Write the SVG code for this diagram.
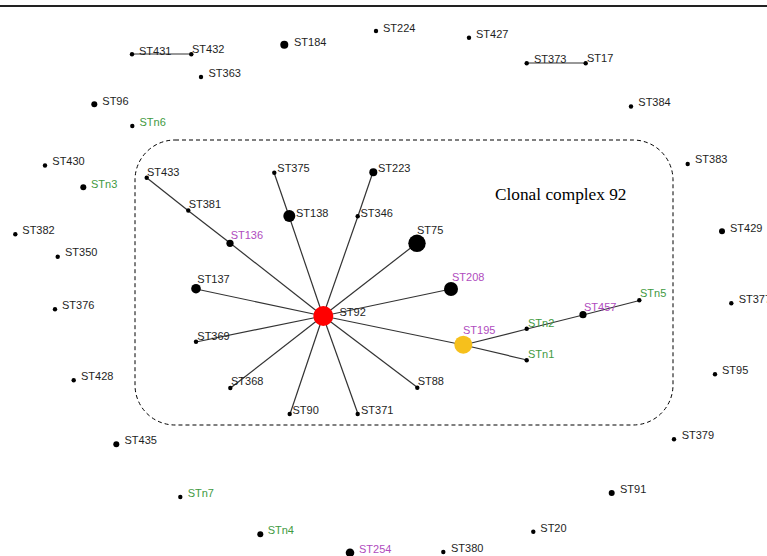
<svg xmlns="http://www.w3.org/2000/svg" width="767" height="556" viewBox="0 0 767 556">
<style>
text{font-family:"Liberation Sans",Arial,sans-serif;font-size:11px;fill:#1e1e1e}
.p{fill:#b04cbe}
.g{fill:#3f9a3f}
.cc{font-family:"Liberation Serif","Times New Roman",serif;font-size:17.3px;fill:#000}
circle{fill:#000}
#edges line{stroke:#333;stroke-width:1.2}
</style>
<rect width="767" height="556" fill="#fff"/>
<line x1="0" y1="6" x2="767" y2="6" stroke="#222" stroke-width="2.2"/>
<rect id="cc92-box" x="135" y="140" width="538" height="285" rx="40" ry="40" fill="none" stroke="#000" stroke-width="1" stroke-dasharray="4,3"/>
<text class="cc" x="495" y="200">Clonal complex 92</text>
<g id="edges">
<line x1="132" y1="54" x2="191" y2="54"/>
<line x1="527" y1="63" x2="586" y2="63"/>
<line x1="323" y1="316" x2="230" y2="243"/>
<line x1="230" y1="243" x2="188" y2="210.5"/>
<line x1="188" y1="210.5" x2="147" y2="178"/>
<line x1="323" y1="316" x2="289" y2="216"/>
<line x1="289" y1="216" x2="274" y2="172.5"/>
<line x1="323" y1="316" x2="358" y2="216"/>
<line x1="358" y1="216" x2="373" y2="172"/>
<line x1="323" y1="316" x2="417" y2="243"/>
<line x1="323" y1="316" x2="451" y2="289"/>
<line x1="323" y1="316" x2="196" y2="289"/>
<line x1="323" y1="316" x2="196" y2="342"/>
<line x1="323" y1="316" x2="230.5" y2="388"/>
<line x1="323" y1="316" x2="290" y2="414"/>
<line x1="323" y1="316" x2="358" y2="414"/>
<line x1="323" y1="316" x2="417.5" y2="387.5"/>
<line x1="323" y1="316" x2="463.5" y2="345"/>
<line x1="463.5" y1="345" x2="527" y2="329"/>
<line x1="527" y1="329" x2="583" y2="315"/>
<line x1="583" y1="315" x2="639.5" y2="300.5"/>
<line x1="463.5" y1="345" x2="527" y2="360"/>
</g>
<g id="ST431"><circle cx="132" cy="54.3" r="2.2"/><text x="139" y="55">ST431</text></g>
<g id="ST432"><circle cx="191.3" cy="54.3" r="2.2"/><text x="192" y="52.5">ST432</text></g>
<g id="ST363"><circle cx="201" cy="77" r="2.2"/><text x="208.5" y="77">ST363</text></g>
<g id="ST184"><circle cx="284.3" cy="44.7" r="4"/><text x="294" y="46">ST184</text></g>
<g id="ST224"><circle cx="376" cy="31" r="2.2"/><text x="383" y="31.5">ST224</text></g>
<g id="ST427"><circle cx="469" cy="37.7" r="2.2"/><text x="476" y="38">ST427</text></g>
<g id="ST373"><circle cx="526.7" cy="63.3" r="2.2"/><text x="534" y="63">ST373</text></g>
<g id="ST17"><circle cx="585.7" cy="63.3" r="2.2"/><text x="587" y="61.5">ST17</text></g>
<g id="ST384"><circle cx="631" cy="106.5" r="2.2"/><text x="638.3" y="106">ST384</text></g>
<g id="ST96"><circle cx="94.3" cy="104.3" r="3"/><text x="102.3" y="105">ST96</text></g>
<g id="STn6"><circle cx="132.3" cy="126" r="2.2"/><text class="g" x="139.5" y="126">STn6</text></g>
<g id="ST430"><circle cx="45" cy="165.5" r="2.2"/><text x="52.3" y="165">ST430</text></g>
<g id="STn3"><circle cx="83.3" cy="187.3" r="3"/><text class="g" x="91" y="188">STn3</text></g>
<g id="ST383"><circle cx="687.7" cy="164" r="2.2"/><text x="695" y="163">ST383</text></g>
<g id="ST433"><circle cx="146.7" cy="177.7" r="2.2"/><text x="147" y="176">ST433</text></g>
<g id="ST375"><circle cx="274.3" cy="172.7" r="2.2"/><text x="277.3" y="172">ST375</text></g>
<g id="ST223"><circle cx="373.3" cy="172.3" r="4"/><text x="378" y="172">ST223</text></g>
<g id="ST381"><circle cx="188.3" cy="210.5" r="2.2"/><text x="188.7" y="208">ST381</text></g>
<g id="ST138"><circle cx="289.3" cy="216" r="6"/><text x="296" y="216.5">ST138</text></g>
<g id="ST346"><circle cx="357.7" cy="216.3" r="2.2"/><text x="360.5" y="216.5">ST346</text></g>
<g id="ST75"><circle cx="417" cy="243.3" r="8.7"/><text x="417" y="234">ST75</text></g>
<g id="ST136"><circle cx="230" cy="243.3" r="3.6"/><text class="p" x="230.7" y="239">ST136</text></g>
<g id="ST382"><circle cx="15.3" cy="234.3" r="2.2"/><text x="22.3" y="234">ST382</text></g>
<g id="ST429"><circle cx="722" cy="231.3" r="3"/><text x="730" y="231.5">ST429</text></g>
<g id="ST350"><circle cx="57.7" cy="256.7" r="2.2"/><text x="65" y="256">ST350</text></g>
<g id="ST137"><circle cx="196" cy="288.7" r="4.8"/><text x="197.3" y="283">ST137</text></g>
<g id="ST208"><circle cx="451" cy="289" r="7"/><text class="p" x="452" y="281">ST208</text></g>
<g id="ST92"><circle cx="323.3" cy="316" r="10" style="fill:#ff0000"/><text x="339.5" y="316">ST92</text></g>
<g id="ST376"><circle cx="55" cy="309.3" r="2.2"/><text x="62" y="308.5">ST376</text></g>
<g id="STn5"><circle cx="639.3" cy="300.3" r="2.2"/><text class="g" x="640" y="297">STn5</text></g>
<g id="ST457"><circle cx="583" cy="314.7" r="3.6"/><text class="p" x="584" y="311">ST457</text></g>
<g id="STn2"><circle cx="526.7" cy="328.7" r="2.2"/><text class="g" x="528" y="327">STn2</text></g>
<g id="ST377"><circle cx="731.3" cy="303.3" r="2.2"/><text x="738.7" y="303">ST377</text></g>
<g id="ST369"><circle cx="196" cy="341.7" r="2.2"/><text x="197.3" y="340">ST369</text></g>
<g id="ST195"><circle cx="463.3" cy="344.7" r="9" style="fill:#f6c01c"/><text class="p" x="463" y="334">ST195</text></g>
<g id="STn1"><circle cx="526.7" cy="360.3" r="2.2"/><text class="g" x="528" y="358">STn1</text></g>
<g id="ST95"><circle cx="715" cy="374.3" r="2.2"/><text x="722" y="373.5">ST95</text></g>
<g id="ST428"><circle cx="73.7" cy="380.3" r="2.2"/><text x="81" y="380">ST428</text></g>
<g id="ST368"><circle cx="230.3" cy="388" r="2.2"/><text x="231" y="385">ST368</text></g>
<g id="ST88"><circle cx="417.3" cy="387.7" r="2.2"/><text x="417.7" y="385">ST88</text></g>
<g id="ST90"><circle cx="289.7" cy="414" r="2.2"/><text x="292.5" y="414">ST90</text></g>
<g id="ST371"><circle cx="357.7" cy="414" r="2.2"/><text x="361" y="414">ST371</text></g>
<g id="ST379"><circle cx="674" cy="439.3" r="2.2"/><text x="681.7" y="439">ST379</text></g>
<g id="ST435"><circle cx="116.3" cy="444.3" r="3"/><text x="124.5" y="444">ST435</text></g>
<g id="STn7"><circle cx="180.3" cy="497" r="2.2"/><text class="g" x="187.7" y="497">STn7</text></g>
<g id="ST91"><circle cx="611.7" cy="493" r="3"/><text x="620" y="493">ST91</text></g>
<g id="STn4"><circle cx="260.3" cy="534.3" r="3"/><text class="g" x="267.7" y="534">STn4</text></g>
<g id="ST20"><circle cx="533.3" cy="531.7" r="2.2"/><text x="540.3" y="531.5">ST20</text></g>
<g id="ST254"><circle cx="350" cy="552.7" r="4.3"/><text class="p" x="359" y="553">ST254</text></g>
<g id="ST380"><circle cx="443.3" cy="552" r="2.2"/><text x="451" y="552">ST380</text></g>
</svg>
